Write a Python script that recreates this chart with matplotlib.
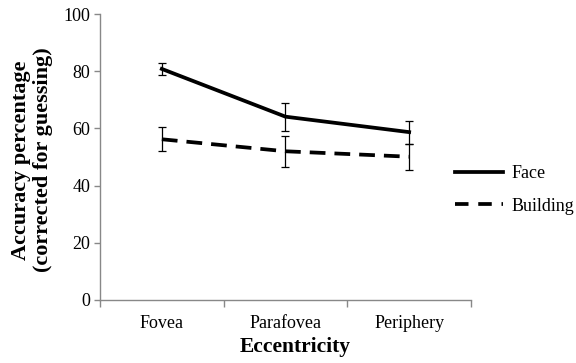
import matplotlib
matplotlib.use("Agg")
import matplotlib.pyplot as plt
from matplotlib.lines import Line2D

categories = ["Fovea", "Parafovea", "Periphery"]
face = [80.8, 64.1, 58.7]
face_err = [2.2, 4.9, 4.0]
building = [56.2, 52.0, 50.1]
building_err = [4.2, 5.4, 4.5]

plt.rcParams['font.family'] = ['Liberation Serif', 'DejaVu Serif']

fig = plt.figure(figsize=(5.76, 3.63), dpi=100)
ax = fig.add_axes([0.1736, 0.1736, 0.8177 - 0.1736, 0.9614 - 0.1736])

dash = (0, (4.2, 2.4))
x = list(range(len(categories)))
ax.errorbar(x, face, yerr=face_err, color='black', lw=2.7, ecolor='black',
            elinewidth=0.9, capsize=3, capthick=0.9, label='Face')
ax.errorbar(x, building, yerr=building_err, color='black', lw=2.7, ls=dash,
            ecolor='black', elinewidth=0.9, capsize=3, capthick=0.9, label='Building')

ax.set_xlim(-0.5, 2.5)
ax.set_ylim(0, 100)
ax.set_yticks([0, 20, 40, 60, 80, 100])
ax.set_xticks(x)
ax.set_xticklabels(categories, fontsize=13)
ax.tick_params(axis='x', length=0, pad=11)
ax.set_xticks([-0.5, 0.5, 1.5, 2.5], minor=True)
ax.tick_params(axis='x', which='minor', length=5, color='#888888', width=1)
ax.tick_params(axis='y', length=4, color='#888888', width=1, labelsize=13, pad=3)

for s in ['top', 'right']:
    ax.spines[s].set_visible(False)
for s in ['left', 'bottom']:
    ax.spines[s].set_color('#888888')
    ax.spines[s].set_linewidth(1)

fig.text(32 / 576, 0.559, "Accuracy percentage\n(corrected for guessing)", fontsize=16,
         fontweight='bold', rotation=90, ha='center', va='center', linespacing=1.15)
fig.text(295 / 576, 1 - 347 / 363, "Eccentricity", fontsize=15.5, fontweight='bold',
         ha='center', va='center')

handles = [Line2D([], [], color='black', lw=2.7),
           Line2D([], [], color='black', lw=2.7, ls=(0, (3.6, 2.6)))]
fig.legend(handles, ['Face', 'Building'], loc='center left',
           bbox_to_anchor=(455 / 576, 1 - 190 / 363), frameon=False, fontsize=13,
           handlelength=2.65, labelspacing=0.85, handletextpad=0.5,
           borderpad=0, borderaxespad=0)

fig.savefig("out.png", dpi=100)
